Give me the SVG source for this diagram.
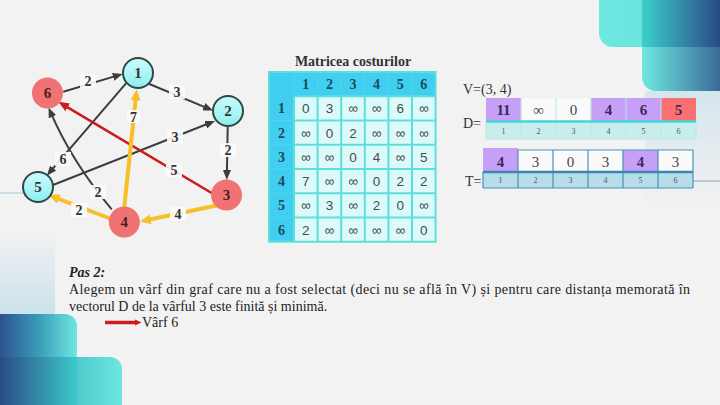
<svg xmlns="http://www.w3.org/2000/svg" width="720" height="405" viewBox="0 0 720 405">
<defs>
<style>
.bg{fill:#f2f2f2}
.e{fill:none;stroke:#3d3d3d;stroke-width:2}
.ey{fill:none;stroke:#f5c02a;stroke-width:4}
.er{fill:none;stroke:#cc1c1c;stroke-width:2.6}
.lb{fill:#fbfbfb;opacity:0.9}
.lt{font-family:"Liberation Serif",serif;font-weight:bold;font-size:14px;fill:#333;text-anchor:middle}
.nc{fill:url(#gc);stroke:#2c4848;stroke-width:2}
.nr{fill:#f07272}
.nt{font-family:"Liberation Serif",serif;font-weight:bold;font-size:15px;fill:#333;text-anchor:middle}
.ntr{font-family:"Liberation Serif",serif;font-weight:bold;font-size:15px;fill:#4a1e1e;text-anchor:middle}
.mh{font-family:"Liberation Serif",serif;font-weight:bold;font-size:14px;fill:#1e4a5a;text-anchor:middle}
.md{font-family:"Liberation Sans",sans-serif;font-size:13.5px;fill:#4a4a4a;text-anchor:middle}
.vb{font-family:"Liberation Serif",serif;font-weight:bold;font-size:15px;fill:#3a2a5a;text-anchor:middle}
.vr{font-family:"Liberation Serif",serif;font-size:15px;fill:#444;text-anchor:middle}
.sm{font-family:"Liberation Serif",serif;font-size:8px;fill:#555;text-anchor:middle}
.tx{font-family:"Liberation Serif",serif;font-size:14px;fill:#222}
</style>
<linearGradient id="gc" x1="0" y1="0" x2="0" y2="1"><stop offset="0" stop-color="#cbfcfc"/><stop offset="1" stop-color="#8eeeee"/></linearGradient>
<linearGradient id="gA" gradientUnits="userSpaceOnUse" x1="599" y1="0" x2="720" y2="0"><stop offset="0" stop-color="#6ee8e0"/><stop offset="1" stop-color="#62dcd8"/></linearGradient>
<linearGradient id="gB" gradientUnits="userSpaceOnUse" x1="642" y1="0" x2="720" y2="0"><stop offset="0" stop-color="#6ee8e0"/><stop offset="1" stop-color="#3c6a9a"/></linearGradient>
<linearGradient id="gAB" gradientUnits="userSpaceOnUse" x1="642" y1="0" x2="720" y2="0"><stop offset="0" stop-color="#3ccfcc"/><stop offset="1" stop-color="#2a4a84"/></linearGradient>
<linearGradient id="gC" gradientUnits="userSpaceOnUse" x1="0" y1="0" x2="77" y2="0"><stop offset="0" stop-color="#2e5390"/><stop offset="0.5" stop-color="#3a9cb8"/><stop offset="1" stop-color="#6ee6e0"/></linearGradient>
<linearGradient id="gD" gradientUnits="userSpaceOnUse" x1="0" y1="0" x2="122" y2="0"><stop offset="0" stop-color="#2c4f8a"/><stop offset="0.6" stop-color="#4cc8cc"/><stop offset="1" stop-color="#6ee6e0"/></linearGradient>
<linearGradient id="gCD" gradientUnits="userSpaceOnUse" x1="0" y1="0" x2="77" y2="0"><stop offset="0" stop-color="#2a4b86"/><stop offset="1" stop-color="#3ccaca"/></linearGradient>
<linearGradient id="gF" x1="0" y1="0" x2="0" y2="1"><stop offset="0" stop-color="#c8e0ea" stop-opacity="0"/><stop offset="1" stop-color="#c8e0ea" stop-opacity="0.9"/></linearGradient>
<linearGradient id="gF2" x1="0" y1="0" x2="0" y2="1"><stop offset="0" stop-color="#d2e4ec" stop-opacity="0.9"/><stop offset="1" stop-color="#d2e4ec" stop-opacity="0"/></linearGradient>
<marker id="ab" viewBox="0 0 10 8" refX="5" refY="4" markerWidth="10" markerHeight="8" markerUnits="userSpaceOnUse" orient="auto"><path d="M0,0 L10,4 L0,8 z" fill="#3d3d3d"/></marker>
<marker id="ay" viewBox="0 0 11 10" refX="6" refY="5" markerWidth="11" markerHeight="10" markerUnits="userSpaceOnUse" orient="auto"><path d="M0,0 L11,5 L0,10 z" fill="#f5c02a"/></marker>
<marker id="ar" viewBox="0 0 11 9" refX="6" refY="4.5" markerWidth="11" markerHeight="9" markerUnits="userSpaceOnUse" orient="auto"><path d="M0,0 L11,4.5 L0,9 z" fill="#cc1c1c"/></marker>
</defs>

<rect class="bg" x="0" y="0" width="720" height="405"/>

<g id="decor">
<rect x="645" y="91" width="75" height="120" fill="url(#gF2)"/>
<rect x="0" y="230" width="55" height="84" fill="url(#gF)"/>
<rect x="642" y="-20" width="100" height="111" rx="14" fill="url(#gB)"/>
<rect x="599" y="-20" width="140" height="67" rx="14" fill="url(#gA)"/>
<rect x="642" y="-20" width="78" height="67" fill="url(#gAB)"/>
<rect x="-20" y="314" width="97" height="111" rx="12" fill="url(#gC)"/>
<rect x="-20" y="357" width="142" height="68" rx="12" fill="url(#gD)"/>
<rect x="0" y="357" width="77" height="48" fill="url(#gCD)"/>
<line x1="0" y1="193" x2="23" y2="193" stroke="#a8c8d8" stroke-width="1"/>
<line x1="647" y1="181" x2="720" y2="181" stroke="#8aa8b8" stroke-width="1"/>
</g>

<g id="connectors">
<path class="e" d="M63.3,91.7 L117.9,75.4" marker-end="url(#ab)"/>
<path class="e" d="M147,83 L208.4,108.6" marker-end="url(#ab)"/>
<path class="e" d="M126,83.3 L50,171.9" marker-end="url(#ab)"/>
<path class="e" d="M53,185 L210.4,122.8" marker-end="url(#ab)"/>
<path class="e" d="M227.7,127 L226.9,175" marker-end="url(#ab)"/>
<path class="e" d="M111.7,209.3 Q72,162 50.5,112.1" marker-end="url(#ab)"/>
<path class="er" d="M213.3,194 L62.6,104.3" marker-end="url(#ar)"/>
<path class="ey" d="M219,205 L144.9,220.5" marker-end="url(#ay)"/>
<path class="ey" d="M124.3,206.7 L136.2,94.3" marker-end="url(#ay)"/>
<path class="ey" d="M110,218.5 L53.2,196.8" marker-end="url(#ay)"/>
<g id="edge-labels">
<rect class="lb" x="80" y="74" width="16" height="14"/><text class="lt" x="88" y="86">2</text>
<rect class="lb" x="169" y="85" width="16" height="14"/><text class="lt" x="177" y="97">3</text>
<rect class="lb" x="55" y="152" width="16" height="14"/><text class="lt" x="63" y="164">6</text>
<rect class="lb" x="220" y="143" width="16" height="14"/><text class="lt" x="228" y="155">2</text>
<rect class="lb" x="167" y="130" width="16" height="14"/><text class="lt" x="175" y="142">3</text>
<rect class="lb" x="90" y="185" width="16" height="14"/><text class="lt" x="98" y="197">2</text>
<rect class="lb" x="166" y="163" width="16" height="14"/><text class="lt" x="174" y="175">5</text>
<rect class="lb" x="170" y="207" width="16" height="14"/><text class="lt" x="178" y="219">4</text>
<rect class="lb" x="127" y="110" width="13" height="13"/><text class="lt" x="133.5" y="121.5">7</text>
<rect class="lb" x="71" y="203" width="16" height="14"/><text class="lt" x="79" y="215">2</text>
</g>
</g>

<g id="node1"><circle class="nc" cx="138" cy="73" r="15"/><text class="nt" x="138" y="78">1</text></g>
<g id="node2"><circle class="nc" cx="228" cy="111" r="15"/><text class="nt" x="228" y="116">2</text></g>
<g id="node3"><circle class="nr" cx="226.5" cy="195" r="15.5"/><text class="ntr" x="226.5" y="200">3</text></g>
<g id="node4"><circle class="nr" cx="124.3" cy="222" r="15.5"/><text class="ntr" x="124.3" y="227">4</text></g>
<g id="node5"><circle class="nc" cx="38" cy="187" r="15"/><text class="nt" x="38" y="192">5</text></g>
<g id="node6"><circle class="nr" cx="47.5" cy="93" r="15.5"/><text class="ntr" x="47.5" y="98">6</text></g>

<g id="matrix">
<text x="353" y="65.5" font-family="Liberation Serif, serif" font-weight="bold" font-size="14" fill="#333" text-anchor="middle">Matricea costurilor</text>
<rect x="269" y="72" width="166.6" height="169.75" fill="#dcfafa"/>
<rect x="269" y="72" width="166.6" height="24.25" fill="#40cff0"/>
<rect x="269" y="72" width="25" height="169.75" fill="#40cff0"/>
<g stroke="#5ee0da" stroke-width="2" fill="none">
<rect x="269" y="72" width="166.6" height="169.75"/>
<path d="M294,96.25 V241.75 M317.6,96.25 V241.75 M341.2,96.25 V241.75 M364.8,96.25 V241.75 M388.4,96.25 V241.75 M412,96.25 V241.75"/>
<path d="M294,96.25 H435.6 M294,120.5 H435.6 M294,144.75 H435.6 M294,169 H435.6 M294,193.25 H435.6 M294,217.5 H435.6"/>
</g>
<g stroke="#4cd8ec" stroke-width="1" fill="none">
<path d="M294,72 V96.25 M317.6,72 V96.25 M341.2,72 V96.25 M364.8,72 V96.25 M388.4,72 V96.25 M412,72 V96.25"/>
<path d="M269,120.5 H294 M269,144.75 H294 M269,169 H294 M269,193.25 H294 M269,217.5 H294"/>
</g>
<text class="mh" x="305.8" y="89">1</text><text class="mh" x="329.4" y="89">2</text><text class="mh" x="353" y="89">3</text><text class="mh" x="376.6" y="89">4</text><text class="mh" x="400.2" y="89">5</text><text class="mh" x="423.8" y="89">6</text>
<text class="mh" x="281.5" y="113.4">1</text><text class="mh" x="281.5" y="137.6">2</text><text class="mh" x="281.5" y="161.9">3</text><text class="mh" x="281.5" y="186.1">4</text><text class="mh" x="281.5" y="210.4">5</text><text class="mh" x="281.5" y="234.6">6</text>
<text class="md" y="113.4"><tspan x="305.8">0</tspan><tspan x="329.4">3</tspan><tspan x="353">∞</tspan><tspan x="376.6">∞</tspan><tspan x="400.2">6</tspan><tspan x="423.8">∞</tspan></text>
<text class="md" y="137.6"><tspan x="305.8">∞</tspan><tspan x="329.4">0</tspan><tspan x="353">2</tspan><tspan x="376.6">∞</tspan><tspan x="400.2">∞</tspan><tspan x="423.8">∞</tspan></text>
<text class="md" y="161.9"><tspan x="305.8">∞</tspan><tspan x="329.4">∞</tspan><tspan x="353">0</tspan><tspan x="376.6">4</tspan><tspan x="400.2">∞</tspan><tspan x="423.8">5</tspan></text>
<text class="md" y="186.1"><tspan x="305.8">7</tspan><tspan x="329.4">∞</tspan><tspan x="353">∞</tspan><tspan x="376.6">0</tspan><tspan x="400.2">2</tspan><tspan x="423.8">2</tspan></text>
<text class="md" y="210.4"><tspan x="305.8">∞</tspan><tspan x="329.4">3</tspan><tspan x="353">∞</tspan><tspan x="376.6">2</tspan><tspan x="400.2">0</tspan><tspan x="423.8">∞</tspan></text>
<text class="md" y="234.6"><tspan x="305.8">2</tspan><tspan x="329.4">∞</tspan><tspan x="353">∞</tspan><tspan x="376.6">∞</tspan><tspan x="400.2">∞</tspan><tspan x="423.8">0</tspan></text>
</g>

<g id="vectorD">
<text x="463" y="94" font-family="Liberation Serif, serif" font-size="14" fill="#333">V=(3, 4)</text>
<text x="463" y="128" font-family="Liberation Serif, serif" font-size="14" fill="#333">D=</text>
<rect x="486" y="98" width="210" height="23" fill="#fafafa"/>
<rect x="486" y="98" width="35" height="23" fill="#c6a0f6"/>
<rect x="591" y="98" width="70" height="23" fill="#c6a0f6"/>
<rect x="661" y="98" width="35" height="23" fill="#f87070"/>
<rect x="486" y="122" width="210" height="17" fill="#c8eeec"/>
<g stroke="#b8e6e6" stroke-width="1" fill="none">
<path d="M521,98 V139 M556,98 V139 M591,98 V139 M626,98 V139 M661,98 V139 M486,122 V139 M696,122 V139 M486,139 H696"/>
</g>
<line x1="486" y1="121.5" x2="696" y2="121.5" stroke="#44d4d8" stroke-width="2.5"/>
<text class="vb" x="503.5" y="115">11</text>
<text class="vr" x="538.5" y="115" font-family="Liberation Sans, sans-serif" font-size="13" fill="#666">∞</text>
<text class="vr" x="573.5" y="115">0</text>
<text class="vb" x="608.5" y="115">4</text>
<text class="vb" x="643.5" y="115">6</text>
<text class="vb" x="678.5" y="115" fill="#6a1a1a">5</text>
<text class="sm" y="133.5"><tspan x="503.5">1</tspan><tspan x="538.5">2</tspan><tspan x="573.5">3</tspan><tspan x="608.5">4</tspan><tspan x="643.5">5</tspan><tspan x="678.5">6</tspan></text>
</g>

<g id="vectorT">
<text x="465" y="186" font-family="Liberation Serif, serif" font-size="14" fill="#333">T=</text>
<rect x="483" y="150" width="210" height="22" fill="#fafafa"/>
<rect x="483" y="148" width="35" height="24" fill="#c6a0f6"/>
<rect x="623" y="150" width="35" height="22" fill="#c6a0f6"/>
<rect x="483" y="172" width="210" height="16" fill="#b6dde8"/>
<g stroke="#4a92b8" stroke-width="1.2" fill="none">
<path d="M518,150 H693 V188 M623,150 H658 M518,150 V188 M553,150 V188 M588,150 V188 M623,150 V188 M658,150 V188 M483,172 V188 M483,188 H693"/>
</g>
<line x1="483" y1="172" x2="693" y2="172" stroke="#3a88b0" stroke-width="2.5"/>
<text class="vb" x="500.5" y="167">4</text>
<text class="vr" x="535.5" y="167">3</text>
<text class="vr" x="570.5" y="167">0</text>
<text class="vr" x="605.5" y="167">3</text>
<text class="vb" x="640.5" y="167">4</text>
<text class="vr" x="675.5" y="167">3</text>
<text class="sm" y="183"><tspan x="500.5">1</tspan><tspan x="535.5">2</tspan><tspan x="570.5">3</tspan><tspan x="605.5">4</tspan><tspan x="640.5">5</tspan><tspan x="675.5">6</tspan></text>
</g>

<g id="explanation">
<text class="tx" x="69" y="277" font-weight="bold" font-style="italic">Pas 2:</text>
<text class="tx" x="69" y="294" textLength="621" lengthAdjust="spacing">Alegem un vârf din graf care nu a fost selectat (deci nu se află în V) și pentru care distanța memorată în</text>
<text class="tx" x="69" y="310.5">vectorul D de la vârful 3 este finită și minimă.</text>
<line x1="105" y1="322.5" x2="137" y2="322.5" stroke="#cc1c1c" stroke-width="3.5"/>
<path d="M135,319.5 L141.5,322.5 L135,325.5 z" fill="#cc1c1c"/>
<text class="tx" x="142" y="327">Vârf 6</text>
</g>
</svg>
